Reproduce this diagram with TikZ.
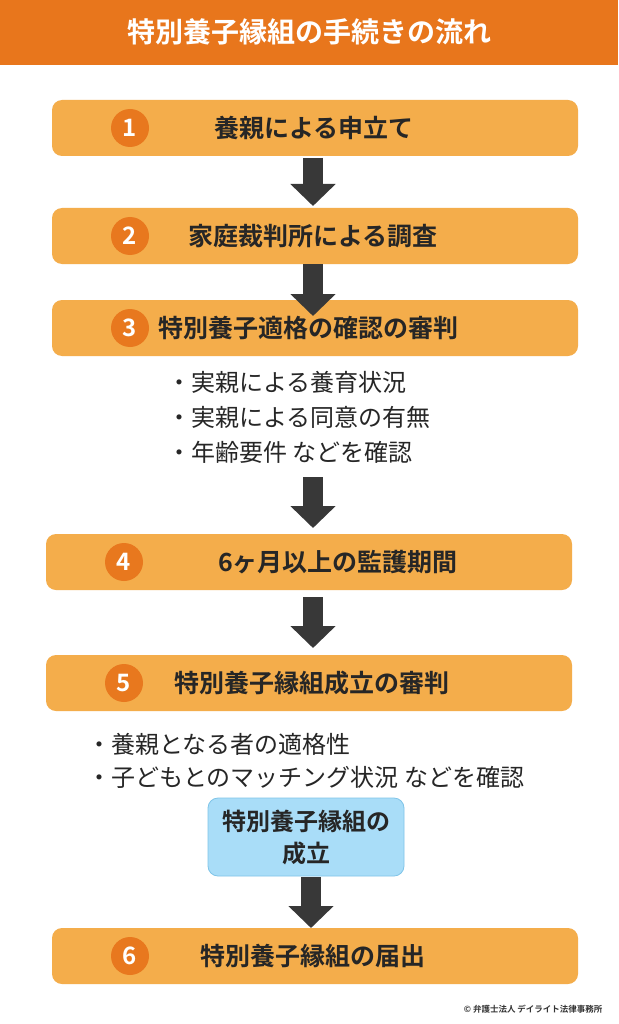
\documentclass[tikz,border=0pt]{standalone}
\usepackage{fontspec}
\setmainfont{Noto Sans CJK JP}[BoldFont={* Bold}]
\usetikzlibrary{arrows.meta}
\definecolor{bar}{HTML}{E8761C}
\definecolor{boxc}{HTML}{F4AD4B}
\definecolor{numc}{HTML}{E8781E}
\definecolor{arr}{HTML}{383838}
\definecolor{blu}{HTML}{A9DDF8}
\definecolor{bluel}{HTML}{7FC4E8}
\begin{document}
\begin{tikzpicture}[x=1pt,y=-1pt,
 stepbox/.style={fill=boxc,rounded corners=10pt,draw=none},
 num/.style={circle,fill=numc,minimum size=38pt,inner sep=0pt,text=white,font=\bfseries\fontsize{24}{24}\selectfont},
 lbl/.style={font=\bfseries\fontsize{25}{28}\selectfont,text=black!85},
 bul/.style={font=\fontsize{24}{28}\selectfont,text=black!85,anchor=west},
 fl/.style={draw=arr,line width=20pt,-{Triangle[width=44pt,length=22pt]},shorten >=0pt}]
\useasboundingbox (0,0) rectangle (618,1024);
\fill[white] (0,0) rectangle (618,1024);
\fill[bar] (0,0) rectangle (618,65);
\node[text=white,font=\bfseries\fontsize{28}{30}\selectfont] (title) at (309,32) {特別養子縁組の手続きの流れ};
% boxes
\fill[stepbox] (52,100) rectangle (578,156);
\node[num] (n1) at (130,128) {1};
\node[lbl] (t1) at (314,128) {養親による申立て};
\fill[stepbox] (52,208) rectangle (578,264);
\node[num] (n2) at (130,236) {2};
\node[lbl] (t2) at (313,236) {家庭裁判所による調査};
\fill[stepbox] (52,300) rectangle (578,356);
\node[num] (n3) at (130,328) {3};
\node[lbl,anchor=west] (t3) at (155,328) {特別養子適格の確認の審判};
\fill[stepbox] (46,534) rectangle (572,590);
\node[num] (n4) at (124,562) {4};
\node[lbl] (t4) at (338,562) {6ヶ月以上の監護期間};
\fill[stepbox] (46,655) rectangle (572,711);
\node[num] (n5) at (124,683) {5};
\node[lbl] (t5) at (312,683) {特別養子縁組成立の審判};
\fill[stepbox] (52,928) rectangle (578,984);
\node[num] (n6) at (130,956) {6};
\node[lbl] (t6) at (313,956) {特別養子縁組の届出};
% bullets
\node[bul] (b1) at (164,382) {・実親による養育状況};
\node[bul] (b2) at (164,417) {・実親による同意の有無};
\node[bul] (b3) at (164,452) {・年齢要件 などを確認};
\node[bul] (b4) at (84,744) {・養親となる者の適格性};
\node[bul] (b5) at (84,777) {・子どもとのマッチング状況 などを確認};
\node[draw=bluel,line width=0.8pt,fill=blu,rounded corners=10pt,minimum width=196pt,minimum height=78pt,align=center,font=\bfseries\fontsize{24}{32}\selectfont,text=black!85] (bl) at (306,837) {特別養子縁組の\\成立};
% arrows
\coordinate (a1s) at (313,158); \coordinate (a1e) at (313,206);
\coordinate (a2s) at (313,264); \coordinate (a2e) at (313,316);
\coordinate (a3s) at (313,477); \coordinate (a3e) at (313,528);
\coordinate (a4s) at (313,597); \coordinate (a4e) at (313,648);
\coordinate (a5s) at (311,877); \coordinate (a5e) at (311,928);
\draw[fl] (a1s) -- (a1e);
\draw[fl] (a2s) -- (a2e);
\draw[fl] (a3s) -- (a3e);
\draw[fl] (a4s) -- (a4e);
\draw[fl] (a5s) -- (a5e);
\node[font=\bfseries\fontsize{8.5}{9}\selectfont,anchor=east,text=black!80] (cp) at (606,1009) {© 弁護士法人 デイライト法律事務所};
\end{tikzpicture}
\end{document}
